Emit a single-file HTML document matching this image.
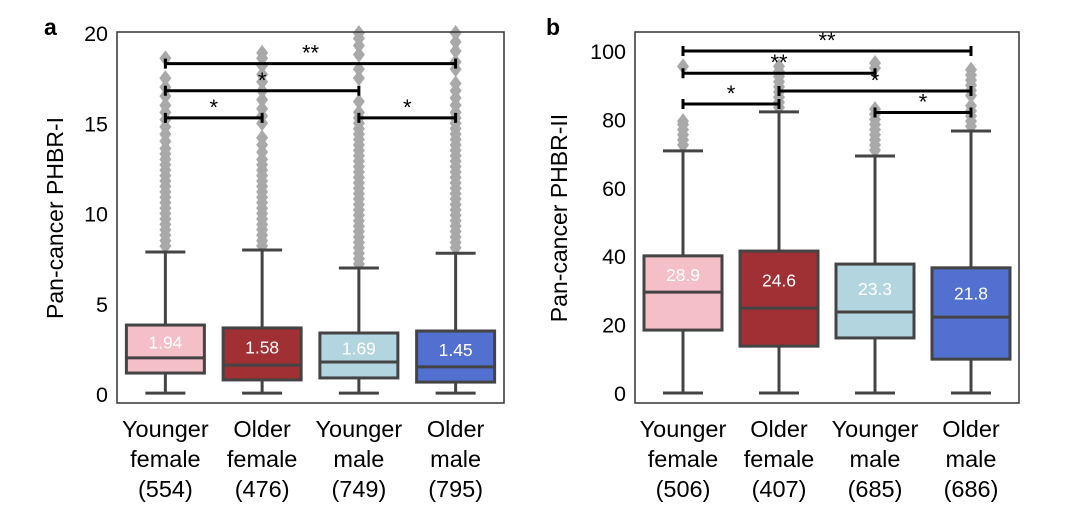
<!DOCTYPE html>
<html><head><meta charset="utf-8"><style>
body{margin:0;background:#fff;}
svg text{font-family:"Liberation Sans",Arial,sans-serif;}
</style></head><body>
<svg id="chart" width="1080" height="523" viewBox="0 0 1080 523" xmlns="http://www.w3.org/2000/svg"></svg>
<script>
const categories = ["Younger|female", "Older|female", "Younger|male", "Older|male"];
const colors = ["#f5bfc8", "#a03033", "#b3d5df", "#5270cf"];
const medTextColors = ["#fff", "#fff", "#fff", "#fff"];
// Panel a (PHBR-I)
const aCounts = ["(554)", "(476)", "(749)", "(795)"];
const aQ1 = [1.16, 0.78, 0.89, 0.66];
const aMed = [2.0, 1.6, 1.77, 1.5];
const aQ3 = [3.82, 3.66, 3.38, 3.49];
const aWlo = [0.05, 0.05, 0.05, 0.05];
const aWhi = [7.87, 7.98, 6.98, 7.8];
const aLabels = ["1.94", "1.58", "1.69", "1.45"];
const aOut0 = [8.2,8.5,8.8,9.1,9.4,9.7,10.0,10.3,10.6,10.9,11.2,11.5,11.8,12.1,12.4,12.7,13.0,13.3,13.6,14.0,14.4,14.8,15.2,15.6,16.0,16.5,17.0,17.5,18.6];
const aOut1 = [8.2,8.5,8.8,9.1,9.4,9.7,10.0,10.3,10.6,10.9,11.2,11.5,11.8,12.1,12.4,12.7,13.0,13.4,13.8,14.2,15.0,15.4,15.8,16.3,16.8,17.3,17.7,18.2,18.6,18.9];
const aOut2 = [7.2,7.5,7.8,8.1,8.4,8.7,9.0,9.3,9.6,9.9,10.2,10.5,10.8,11.1,11.4,11.7,12.0,12.3,12.6,12.9,13.2,13.5,13.8,14.1,14.4,14.7,15.0,15.3,15.6,16.2,17.5,18.0,18.8,19.3,19.7,20.0];
const aOut3 = [8.1,8.4,8.7,9.0,9.3,9.6,9.9,10.2,10.5,10.8,11.1,11.4,11.7,12.0,12.3,12.6,12.9,13.2,13.5,13.8,14.1,14.4,14.7,15.0,15.3,15.6,16.0,16.4,16.8,17.2,18.0,18.4,19.0,19.5,20.0];
const aOutliers = [aOut0, aOut1, aOut2, aOut3];
const aTicks = [0, 5, 10, 15, 20];
const aBrackets = [[0,3,18.3,"**"],[0,2,16.8,"*"],[0,1,15.3,"*"],[2,3,15.3,"*"]];
// Panel b (PHBR-II)
const bCounts = ["(506)", "(407)", "(685)", "(686)"];
const bQ1 = [18.4, 13.7, 16.1, 9.9];
const bMed = [29.5, 24.8, 23.7, 22.2];
const bQ3 = [40.1, 41.5, 37.7, 36.6];
const bWlo = [0, 0, 0, 0];
const bWhi = [70.8, 82.2, 69.3, 76.6];
const bLabels = ["28.9", "24.6", "23.3", "21.8"];
const bOut0 = [72.5,74,75.5,77,78.5,79.5,95.5];
const bOut1 = [83.5,85,86.5,88,89.5,91,92.5,94,95.5];
const bOut2 = [71,72.5,74,75.5,77,78.5,80,81.5,83,95,96.5];
const bOut3 = [78,79.5,81,82.5,84,87,88.5,90,91.5,93,94.5];
const bOutliers = [bOut0, bOut1, bOut2, bOut3];
const bTicks = [0, 20, 40, 60, 80, 100];
const bBrackets = [[0,3,100,"**"],[0,2,93.5,"**"],[1,3,88.3,"*"],[0,1,84.5,"*"],[2,3,82,"*"]];

const NS = "http://www.w3.org/2000/svg";
const svg = document.getElementById("chart");
function mk(tag, attrs, parent) {
  const e = document.createElementNS(NS, tag);
  for (const k in attrs) e.setAttribute(k, attrs[k]);
  (parent || svg).appendChild(e);
  return e;
}

function panel(cfg) {
  const g = mk("g", {});
  
  
  const y = v => cfg.y0 - (v - cfg.ymin) / (cfg.ymax - cfg.ymin) * (cfg.y0 - cfg.y1);
  const step = (cfg.right - cfg.left) / 4;
  const x = i => cfg.left + step * (i + 0.5);
  const bw = 78;
  const L = mk("text", {x: cfg.letterX, y: 35, "font-size": 23, "font-weight": "bold", fill: "#000"}, g);
  L.textContent = cfg.letter;
  
  
  const T = mk("text", {x: cfg.titleX, y: 218, "font-size": 23, "text-anchor": "middle", fill: "#000", transform: `rotate(-90 ${cfg.titleX} 218)`, "dominant-baseline": "central"}, g);
  T.textContent = cfg.title;
  
  
  cfg.ticks.forEach(t => {
    const tt = mk("text", {x: cfg.left - 9, y: y(t) + 8, "font-size": 21.5, "text-anchor": "end", fill: "#000"}, g);
    tt.textContent = t;
    
    
  });
  cfg.outliers.forEach((arr, i) => {
    arr.forEach(v => {
      if (v > cfg.ymax + 0.3) return;
      const cx = x(i), cy = y(v);
      const d = mk("polygon", {points: `${cx},${cy-8} ${cx+6},${cy} ${cx},${cy+8} ${cx-6},${cy}`, fill: "#a9a9a9"}, g);
      
      
    });
  });
  for (let i = 0; i < 4; i++) {
    const cx = x(i);
    const st = {stroke: "#444", "stroke-width": 3, fill: "none"};
    const w = mk("line", Object.assign({x1: cx, x2: cx, y1: y(cfg.whi[i]), y2: y(cfg.q3[i])}, st), g);
    
    
    const w2 = mk("line", Object.assign({x1: cx, x2: cx, y1: y(cfg.q1[i]), y2: y(cfg.wlo[i])}, st), g);
    
    
    const c1 = mk("line", Object.assign({x1: cx - 20, x2: cx + 20, y1: y(cfg.whi[i]), y2: y(cfg.whi[i])}, st), g);
    
    
    const c2 = mk("line", Object.assign({x1: cx - 20, x2: cx + 20, y1: y(cfg.wlo[i]), y2: y(cfg.wlo[i])}, st), g);
    
    
    const b = mk("rect", {x: cx - bw / 2, y: y(cfg.q3[i]), width: bw, height: y(cfg.q1[i]) - y(cfg.q3[i]), fill: colors[i], stroke: "#444", "stroke-width": 3}, g);
    
    
    const m = mk("line", Object.assign({x1: cx - bw / 2, x2: cx + bw / 2, y1: y(cfg.med[i]), y2: y(cfg.med[i])}, st), g);
    
    
    const lt = mk("text", {x: cx, y: (y(cfg.q3[i]) + y(cfg.med[i])) / 2 + 7, "font-size": 17.5, "text-anchor": "middle", fill: medTextColors[i]}, g);
    lt.textContent = cfg.labels[i];
    
    
    const parts = categories[i].split("|").concat([cfg.counts[i]]);
    parts.forEach((p, k) => {
      const xt = mk("text", {x: cx, y: 437 + k * 30, "font-size": 23.5, "text-anchor": "middle", fill: "#000"}, g);
      xt.textContent = p;
      
      
    });
  }
  cfg.brackets.forEach(br => {
    const x1 = x(br[0]), x2 = x(br[1]), yy = y(br[2]);
    const p = mk("path", {d: `M${x1},${yy-5}V${yy+5}M${x1},${yy}H${x2}M${x2},${yy-5}V${yy+5}`, stroke: "#000", "stroke-width": 3, fill: "none"}, g);
    
    
    const s = mk("text", {x: (x1 + x2) / 2, y: yy - 3, "font-size": 22, "text-anchor": "middle", fill: "#000"}, g);
    s.textContent = br[3];
    
    
  });
  const f = mk("rect", {x: cfg.left, y: 32, width: cfg.right - cfg.left, height: 403 - 32, fill: "none", stroke: "#333", "stroke-width": 1.5}, g);
  
  
}

panel({name: "panel-a", letter: "a", letterX: 44, title: "Pan-cancer PHBR-I", titleX: 55,
  left: 117, right: 504, ymin: 0, ymax: 20, y0: 394, y1: 33, ticks: aTicks,
  q1: aQ1, med: aMed, q3: aQ3, wlo: aWlo, whi: aWhi, labels: aLabels, counts: aCounts, outliers: aOutliers, brackets: aBrackets});
panel({name: "panel-b", letter: "b", letterX: 546, title: "Pan-cancer PHBR-II", titleX: 559,
  left: 635, right: 1019, ymin: 0, ymax: 100, y0: 393, y1: 51, ticks: bTicks,
  q1: bQ1, med: bMed, q3: bQ3, wlo: bWlo, whi: bWhi, labels: bLabels, counts: bCounts, outliers: bOutliers, brackets: bBrackets});
</script>
</body></html>
